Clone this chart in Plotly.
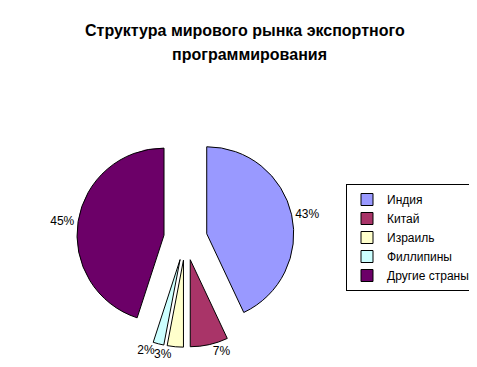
import plotly.graph_objects as go

labels = ["Индия", "Китай", "Израиль", "Филлипины", "Другие страны"]
values = [43, 7, 3, 2, 45]
colors = ["#9999FF", "#A93468", "#FFFFCC", "#CCFFFF", "#6C0068"]
title_lines = ["Структура мирового рынка экспортного", "программирования"]

W, H = 477, 367
FONT = "Liberation Sans, Arial, sans-serif"
PULL = [0.25] * len(values)
DOMAIN = dict(x=[68.75 / W, 286.25 / W], y=[1 - 339.25 / H, 1 - 121.75 / H])

# the two smallest bottom-left labels would be stacked by plotly's label
# collision logic when in one trace; draw the 2% label from an identical
# overlaid pie so both sit side by side under their slices
main_pos = ["outside", "outside", "outside", "none", "outside"]
over_pos = ["none", "none", "none", "outside", "none"]

fig = go.Figure()
fig.add_trace(go.Pie(
    labels=labels, values=values, sort=False, direction="clockwise", rotation=0,
    pull=PULL,
    marker=dict(colors=colors, line=dict(color="black", width=1)),
    textinfo="percent", textposition=main_pos,
    textfont=dict(family=FONT, size=12, color="black"),
    domain=DOMAIN, hoverinfo="label+percent",
))
fig.add_trace(go.Pie(
    labels=labels, values=values, sort=False, direction="clockwise", rotation=0,
    pull=PULL,
    marker=dict(colors=["rgba(0,0,0,0)"] * len(values), line=dict(width=0)),
    textinfo="percent", textposition=over_pos,
    textfont=dict(family=FONT, size=12, color="black"),
    domain=DOMAIN, hoverinfo="skip", showlegend=False,
))

fig.update_layout(
    width=W, height=H,
    margin=dict(l=0, r=0, t=0, b=0, autoexpand=False),
    paper_bgcolor="white",
    plot_bgcolor="white",
    font=dict(family=FONT, size=12, color="black"),
    showlegend=True,
    legend=dict(
        x=338 / W, xanchor="left",
        y=1 - 229.5 / H, yanchor="middle",
        bgcolor="white", bordercolor="black", borderwidth=1,
        font=dict(family=FONT, size=12, color="black"),
    ),
    annotations=[
        dict(text="<b>%s</b>" % title_lines[0], x=237 / W, y=1 - 33 / H, xref="paper", yref="paper",
             xanchor="center", yanchor="bottom", showarrow=False,
             font=dict(family=FONT, size=16, color="black")),
        dict(text="<b>%s</b>" % title_lines[1], x=241 / W, y=1 - 57 / H, xref="paper", yref="paper",
             xanchor="center", yanchor="bottom", showarrow=False,
             font=dict(family=FONT, size=16, color="black")),
    ],
)

fig.write_html("out.html")
